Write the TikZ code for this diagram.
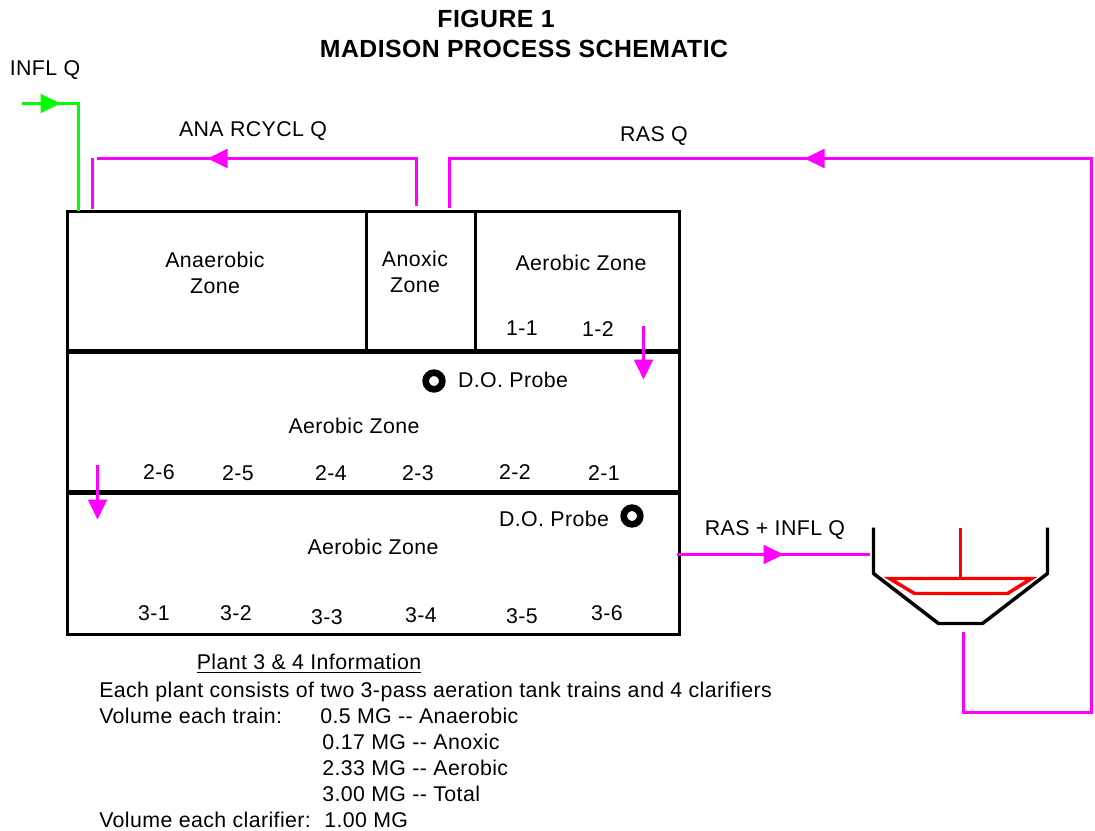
\documentclass[tikz,border=0pt]{standalone}
\usepackage{fontspec}
\setmainfont[LetterSpace=1.9]{Liberation Sans}
\usetikzlibrary{arrows.meta}
\definecolor{mgnta}{RGB}{255,0,255}
\definecolor{grn}{RGB}{0,255,0}
\begin{document}
\begin{tikzpicture}[x=0.75pt, y=-0.75pt,
  wall/.style={draw=black, line width=2.6pt},
  pass/.style={draw=black, line width=4pt},
  flow/.style={draw=mgnta, line width=2.6pt},
  infl/.style={draw=grn, line width=2.6pt},
  weir/.style={draw=red, line width=2.6pt},
  tip/.style={-{Triangle[length=15pt, width=14pt]}},
  lab/.style={font=\fontsize{16pt}{19pt}\selectfont, inner sep=0pt, anchor=base, yshift=-0.6pt},
  labl/.style={font=\fontsize{16pt}{19pt}\selectfont, inner sep=0pt, anchor=base west, yshift=-0.6pt},
  ttl/.style={font=\fontsize{18.6pt}{22pt}\selectfont\bfseries, inner sep=0pt, anchor=base},
  probe/.style={circle, draw=black, line width=5pt, fill=white, inner sep=0pt, minimum size=12.5pt}]
\useasboundingbox (0,0) rectangle (1095,831);
\begin{scope}[shift={(0.5,0.5)}]
% tank
\coordinate (tl) at (67,211);
\coordinate (tr) at (679,211);
\coordinate (bl) at (67,634);
\coordinate (br) at (679,634);
\coordinate (p1l) at (65,351);
\coordinate (p1r) at (680,351);
\coordinate (p2l) at (65,492);
\coordinate (p2r) at (680,492);
\coordinate (d1t) at (366,211);
\coordinate (d1b) at (366,351);
\coordinate (d2t) at (475,211);
\coordinate (d2b) at (475,351);
\draw[wall] (tl)--(tr)--(br)--(bl)--cycle;
\draw[wall] (d1t)--(d1b); \draw[wall] (d2t)--(d2b);
\draw[pass] (p1l)--(p1r); \draw[pass] (p2l)--(p2r);
% influent
\coordinate (i1) at (21,103);
\coordinate (i2) at (60,103);
\coordinate (i3) at (78,103);
\coordinate (i4) at (78,210);
\draw[infl] (i1)--(i3)--(i4);
\draw[infl, tip] (i1)--(i2);
% anaerobic recycle
\coordinate (a1) at (416,205);
\coordinate (a2) at (416,158);
\coordinate (a3) at (207,158);
\coordinate (a4) at (96,158);
\coordinate (a5) at (92,158);
\coordinate (a6) at (92,208);
\draw[flow] (a1)--(a2)--(a4);
\draw[flow, tip] (a2)--(a3);
\draw[flow] (a5)--(a6);
% return sludge
\coordinate (r1) at (449,207);
\coordinate (r2) at (449,158);
\coordinate (r3) at (1091,158);
\coordinate (r4) at (1091,712);
\coordinate (r5) at (963,712);
\coordinate (r6) at (963,631);
\coordinate (r7) at (804,158);
\draw[flow] (r1)--(r2)--(r3)--(r4)--(r5)--(r6);
\draw[flow, tip] (r3)--(r7);
% pass arrows
\coordinate (s1) at (643,325);
\coordinate (s2) at (643,379);
\coordinate (s3) at (97,464);
\coordinate (s4) at (97,519);
\draw[flow, tip] (s1)--(s2);
\draw[flow, tip] (s3)--(s4);
% to clarifier
\coordinate (c1) at (676,554);
\coordinate (c2) at (783,554);
\coordinate (c3) at (869,554);
\draw[flow] (c1)--(c3);
\draw[flow, tip] (c1)--(c2);
% clarifier
\draw[wall, line join=round] (873,527)--(873,573)--(938,623)--(982,623)--(1047,573)--(1047,527);
\draw[weir] (960,527)--(960,578);
\draw[weir] (889,578)--(1031,578)--(1007,593)--(914,593)--cycle;
\end{scope}
% probes
\node[probe] (pr1) at (434,381) {};
\node[probe] (pr2) at (632,516) {};
% labels
\node[ttl] (t1) at (496,28) {FIGURE 1};
\node[ttl] (t2) at (524,58) {MADISON PROCESS SCHEMATIC};
\node[lab] (q1) at (45,75) {INFL Q};
\node[lab] (q2) at (253,136) {ANA RCYCL Q};
\node[lab] (q3) at (654,141) {RAS Q};
\node[lab] (q4) at (775,535) {RAS + INFL Q};
\node[lab] (z1) at (215,267) {Anaerobic};
\node[lab] (z1b) at (215,293) {Zone};
\node[lab] (z2) at (415,266) {Anoxic};
\node[lab] (z2b) at (415,292) {Zone};
\node[lab] (z3) at (581,270) {Aerobic Zone};
\node[lab] (z4) at (354,433) {Aerobic Zone};
\node[lab] (z5) at (373,554) {Aerobic Zone};
\node[lab] (do1) at (513,387) {D.O. Probe};
\node[lab] (do2) at (554,526) {D.O. Probe};
\node[lab] (n11) at (522,335) {1-1};
\node[lab] (n12) at (598,336) {1-2};
\node[lab] (n26) at (159,479) {2-6};
\node[lab] (n25) at (238,480) {2-5};
\node[lab] (n24) at (331,480) {2-4};
\node[lab] (n23) at (418,480) {2-3};
\node[lab] (n22) at (515,479) {2-2};
\node[lab] (n21) at (604,480) {2-1};
\node[lab] (n31) at (154,620) {3-1};
\node[lab] (n32) at (236,620) {3-2};
\node[lab] (n33) at (327,624) {3-3};
\node[lab] (n34) at (421,622) {3-4};
\node[lab] (n35) at (522,623) {3-5};
\node[lab] (n36) at (607,620) {3-6};
% plant information
\node[lab] (i0) at (309,669) {\underline{Plant 3 \& 4 Information}};
\node[labl] (i1t) at (99,697) {Each plant consists of two 3-pass aeration tank trains and 4 clarifiers};
\node[labl] (i2t) at (99,723) {Volume each train:};
\node[labl] (i3t) at (320,723) {0.5 MG -{}- Anaerobic};
\node[labl] (i4t) at (322,749) {0.17 MG -{}- Anoxic};
\node[labl] (i5t) at (322,775) {2.33 MG -{}- Aerobic};
\node[labl] (i6t) at (322,801) {3.00 MG -{}- Total};
\node[labl] (i7t) at (99,827) {Volume each clarifier:};
\node[labl] (i8t) at (324,827) {1.00 MG};
\end{tikzpicture}
\end{document}
